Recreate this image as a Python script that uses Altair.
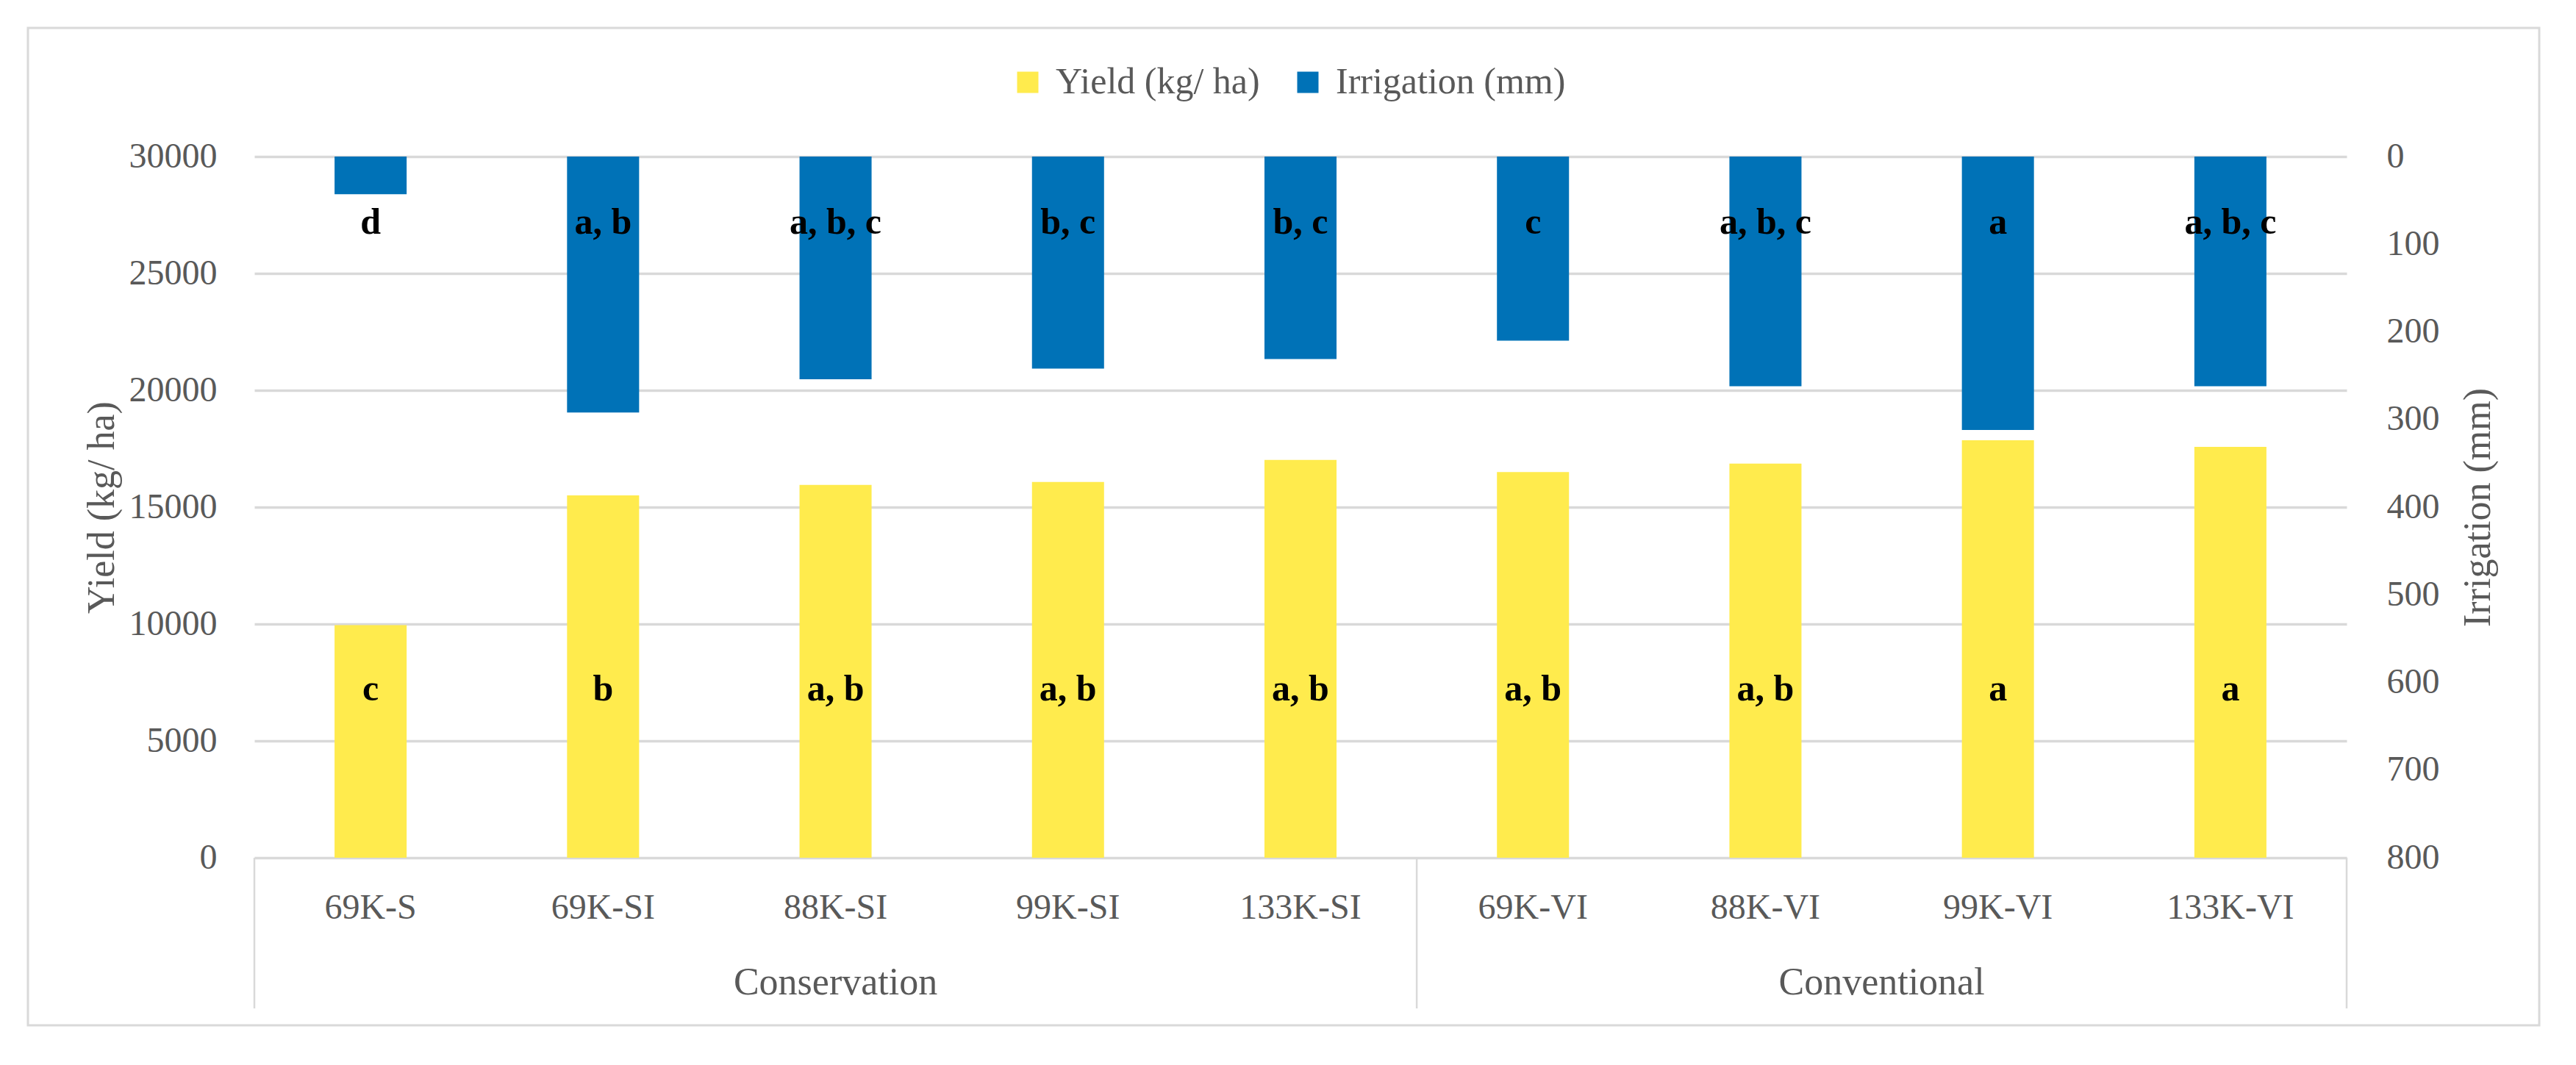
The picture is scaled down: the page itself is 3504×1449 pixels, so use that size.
import altair as alt
import pandas as pd

# ---------------- data ----------------
treatments = ["69K-S", "69K-SI", "88K-SI", "99K-SI", "133K-SI",
              "69K-VI", "88K-VI", "99K-VI", "133K-VI"]
groups = ["Conservation"] * 5 + ["Conventional"] * 4
yield_kg_ha = [9950, 15500, 15950, 16080, 17020, 16500, 16860, 17860, 17580]
irrigation_mm = [43, 292, 254, 242, 231, 210, 262, 312, 262]
yield_letters = ["c", "b", "a, b", "a, b", "a, b", "a, b", "a, b", "a", "a"]
irrigation_letters = ["d", "a, b", "a, b, c", "b, c", "b, c", "c", "a, b, c", "a", "a, b, c"]
yield_ticks = [0, 5000, 10000, 15000, 20000, 25000, 30000]
irrigation_ticks = [0, 100, 200, 300, 400, 500, 600, 700, 800]

YIELD = "Yield (kg/ ha)"
IRR = "Irrigation (mm)"

# ---------------- style ----------------
W, H = 2846, 954
FONT = "Liberation Serif"
GRAY = "#595959"
LINE = "#d9d9d9"
YELLOW = "#FFEB4D"
BLUE = "#0072B7"

df = pd.DataFrame({
    "treatment": treatments,
    "group": groups,
    "yield": yield_kg_ha,
    "irrigation": irrigation_mm,
    "yl": yield_letters,
    "il": irrigation_letters,
})
df["s_yield"] = YIELD
df["s_irr"] = IRR

# group boundaries / centres from the category lists
order = []
for g in groups:
    if g not in order:
        order.append(g)
counts = [groups.count(g) for g in order]
bounds = [0]
for c in counts:
    bounds.append(bounds[-1] + c)
bounds_df = pd.DataFrame({"pos": bounds})
centers_df = pd.DataFrame({
    "group": order,
    "center": [(bounds[i] + bounds[i + 1]) / 2 for i in range(len(order))],
})
n = len(treatments)

color_scale = alt.Scale(domain=[YIELD, IRR], range=[YELLOW, BLUE])
band = alt.Scale(type="band", paddingInner=0, paddingOuter=0)
point = alt.Scale(type="point", padding=0.5)
qx = alt.Scale(domain=[0, n], nice=False, zero=True)

base = alt.Chart(df)

yield_bars = base.mark_bar(width=alt.RelativeBandSize(0.31)).encode(
    x=alt.X("treatment:N", sort=treatments, scale=band,
            axis=alt.Axis(title=None, labelFont=FONT, labelFontSize=48,
                          labelColor=GRAY, labelPadding=68, labelBaseline="middle",
                          labelAngle=0, ticks=False, tickSize=0, domain=False,
                          grid=False)),
    y=alt.Y("yield:Q", scale=alt.Scale(domain=[0, 30000], nice=False),
            axis=alt.Axis(values=yield_ticks, format="d", title=YIELD,
                          grid=True, gridColor=LINE, gridWidth=3.5,
                          domain=False, ticks=False, tickSize=0,
                          labelPadding=51, labelFont=FONT, labelFontSize=48,
                          labelColor=GRAY,
                          titleFont=FONT, titleFontSize=52, titleFontWeight="normal",
                          titleColor=GRAY, titleAngle=270, titleX=-208, titleY=H / 2,
                          titleAlign="center", titleBaseline="middle")),
    color=alt.Color("s_yield:N", scale=color_scale,
                    legend=alt.Legend(title=None, orient="none", direction="horizontal",
                                      legendX=1027, legendY=-126,
                                      symbolType="square", symbolSize=841,
                                      symbolStrokeWidth=0, labelFont=FONT,
                                      labelFontSize=50, labelColor=GRAY,
                                      labelOffset=13, columnPadding=40,
                                      labelLimit=1000, padding=0)),
)

yield_text = base.mark_text(font=FONT, fontSize=50, fontWeight="bold",
                            color="black", baseline="alphabetic", align="center").encode(
    x=alt.X("treatment:N", sort=treatments, scale=point, axis=None),
    y=alt.value(740),
    text="yl:N",
)

irr_bars = base.mark_bar(width=alt.RelativeBandSize(0.31)).encode(
    x=alt.X("treatment:N", sort=treatments, scale=band, axis=None),
    y=alt.Y("irrigation:Q", scale=alt.Scale(domain=[0, 800], reverse=True, nice=False),
            axis=alt.Axis(orient="right", values=irrigation_ticks, format="d", title=IRR,
                          grid=False, domain=False, ticks=False, tickSize=0,
                          labelPadding=54, labelAlign="left", labelFont=FONT,
                          labelFontSize=48, labelColor=GRAY,
                          titleFont=FONT, titleFontSize=52, titleFontWeight="normal",
                          titleColor=GRAY, titleAngle=270, titleX=178, titleY=H / 2,
                          titleAlign="center", titleBaseline="middle")),
    color=alt.Color("s_irr:N", scale=color_scale, legend=None),
)

irr_text = base.mark_text(font=FONT, fontSize=50, fontWeight="bold",
                          color="black", baseline="alphabetic", align="center").encode(
    x=alt.X("treatment:N", sort=treatments, scale=point, axis=None),
    y=alt.value(105),
    text="il:N",
)

frame_rules = alt.Chart(bounds_df).mark_rule(color=LINE, strokeWidth=2.5).encode(
    x=alt.X("pos:Q", scale=qx, axis=None),
    y=alt.value(H),
    y2=alt.value(H + 205),
)

group_text = alt.Chart(centers_df).mark_text(font=FONT, fontSize=52, color=GRAY,
                                             baseline="middle", align="center").encode(
    x=alt.X("center:Q", scale=qx, axis=None),
    y=alt.value(H + 170),
    text="group:N",
)

border = alt.Chart(pd.DataFrame({"k": [0]})).mark_rect(
    fillOpacity=0, stroke=LINE, strokeWidth=3).encode(
    x=alt.value(-308), x2=alt.value(3108),
    y=alt.value(-175), y2=alt.value(1182),
)

chart = alt.layer(
    border, yield_bars, yield_text, irr_bars, irr_text, frame_rules, group_text
).resolve_scale(
    x="independent", y="independent"
).properties(
    width=W, height=H,
    autosize=alt.AutoSizeParams(type="none"),
    padding={"left": 338, "top": 205, "right": 280, "bottom": 240},
).configure_view(stroke=None)

chart.save("out.html", embed_options={"renderer": "svg", "actions": False})
